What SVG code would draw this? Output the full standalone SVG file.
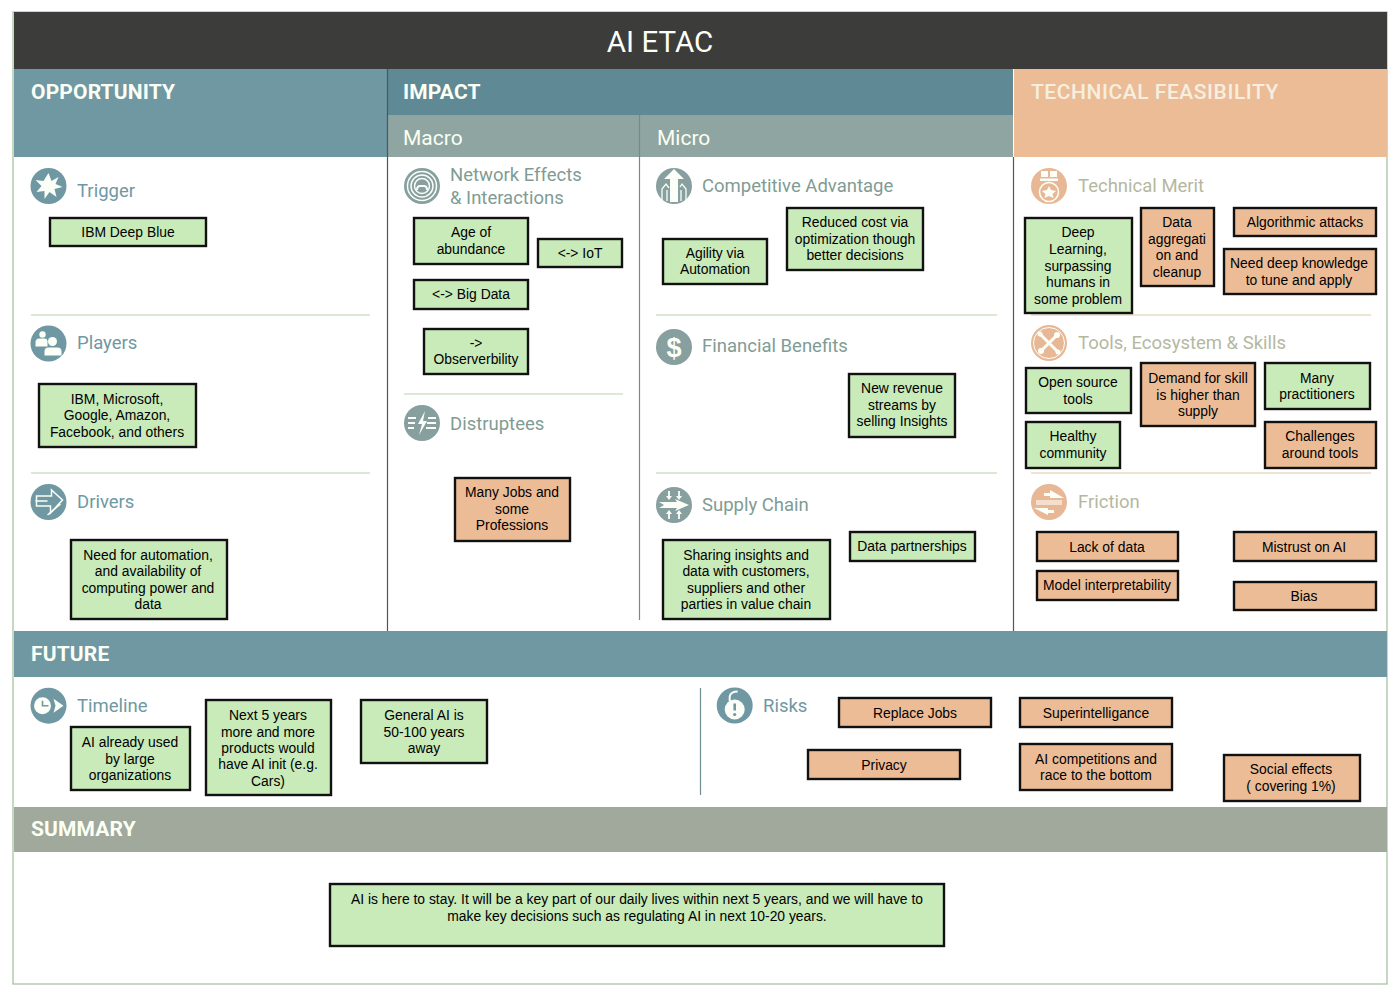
<svg xmlns="http://www.w3.org/2000/svg" width="1400" height="996" viewBox="0 0 1400 996">
<style>
text{font-family:"Liberation Sans",Arial,sans-serif}
.b rect{stroke:#111;stroke-width:2.400}
.g rect{fill:#c9eab9}
.o rect{fill:#ecbc97}
.b text{font-size:13.880px;fill:#000;text-anchor:middle}
.h{font-family:Roboto,"Liberation Sans",sans-serif;font-weight:700;font-size:21px;fill:#fbfff4;letter-spacing:.15px}
.s{font-family:Roboto,"Liberation Sans",sans-serif;font-size:21px;fill:#fbfff4}
.l{font-family:Roboto,"Liberation Sans",sans-serif;font-size:18.500px;fill:#6f98a3}
.la{fill:#7f9c94}
.lo{fill:#b5b8a0}
.ic{fill:#6f98a3}
.ig{fill:#879f9f}
.io{fill:#e8b896}
.w{fill:#fbfff8}
.wl{fill:none;stroke:#fbfff8;stroke-width:2}
.d{stroke-width:1.200;fill:none}
</style>
<rect width="1400" height="996" fill="#fff"/>
<rect x="13" y="12" width="1374" height="972" fill="#fff" stroke="#9fbf98" stroke-width="1.200"/>
<g id="bands">
<rect x="14" y="12" width="1373" height="57" fill="#3c3c3b"/>
<text x="660" y="52" font-size="29.500" fill="#fbfff8" text-anchor="middle" style="font-family:Roboto,'Liberation Sans',sans-serif">AI ETAC</text>
<rect x="14" y="69" width="374" height="88" fill="#6f98a3"/>
<text class="h" x="31" y="99">OPPORTUNITY</text>
<rect x="388" y="69" width="625" height="46" fill="#5f8994"/>
<text class="h" x="403" y="99">IMPACT</text>
<rect x="388" y="115" width="625" height="42" fill="#8fa5a1"/>
<text class="s" x="403" y="144.500">Macro</text>
<text class="s" x="657" y="144.500">Micro</text>
<rect x="1014" y="69" width="373" height="88" fill="#ecbc97"/>
<text class="h" x="1031" y="99" style="fill:#f6efe0;font-weight:500;letter-spacing:.55px">TECHNICAL FEASIBILITY</text>
<rect x="14" y="631" width="1373" height="46" fill="#6f98a3"/>
<text class="h" x="31" y="661">FUTURE</text>
<rect x="14" y="807" width="1373" height="45" fill="#a0a99c"/>
<text class="h" x="31" y="836">SUMMARY</text>
</g>
<g id="dividers">
<path class="d" stroke="#4a5a58" d="M387.500 69V631M1013.500 157V631"/>
<path class="d" stroke="#6f8d93" d="M639.500 115V620M700.500 688V795"/>
<path class="d" stroke="#b4d4a8" d="M31 315H370M31 473H370M404 394H623M656 315H997M656 473H997"/>
<path class="d" stroke="#dcc9a4" d="M1031 315H1371M1031 473H1371"/>
</g>
<g id="trigger"><circle class="ic" cx="48.500" cy="186" r="18"/><polygon class="w" transform="translate(48.500 186)" points="0,-13 3,-5 10,-9 7,-2 14,1 6,3 8,11 1,6 -4,13 -4,5 -12,6 -7,0 -13,-6 -5,-5"/><text class="l" x="77" y="197">Trigger</text></g>
<g id="players"><circle class="ic" cx="48.500" cy="343.500" r="18"/><g class="w" transform="translate(48.500 343.500)"><circle cx="-6" cy="-9" r="3.200"/><path d="M-13 3V-1Q-13-5-9-5H-4Q-1-5-1-2V3Z"/><circle cx="4" cy="-2" r="4.500"/><path d="M-4 12V8Q-4 4 0 4H9Q13 4 13 8V12Z"/></g><text class="l" x="77" y="349">Players</text></g>
<g id="drivers"><circle class="ic" cx="48.500" cy="502" r="18"/><g class="wl" transform="translate(48.500 502)" style="stroke-width:1.500"><path d="M-12-6H3V-12L14-2 2 11V4H-12Z"/><path d="M-13-1H-1M-1 13L12 2"/></g><text class="l" x="77" y="508">Drivers</text></g>
<g id="network-effects"><circle class="ig" cx="422" cy="186" r="18"/><g class="wl" transform="translate(422 186)" style="stroke-width:1.500"><circle r="14.500"/><circle r="11"/><circle r="7.500"/><path d="M-5 4Q-5 0-2 0H2Q5 0 5 4" stroke-width="2"/></g><text class="l la" x="450" y="181">Network Effects</text><text class="l la" x="450" y="204">&amp; Interactions</text></g>
<g id="distruptees"><circle class="ig" cx="422" cy="423" r="18"/><g transform="translate(422 423)"><path class="wl" d="M-14-5H-6M-14 0H-7M-14 5H-8M6-5H14M5 0H14M4 5H14"/><polygon class="w" points="3,-12 -4,1 0,1 -3,12 5,-2 1,-2"/></g><text class="l la" x="450" y="430">Distruptees</text></g>
<g id="competitive-advantage"><circle class="ig" cx="674" cy="186" r="18"/><g transform="translate(674 186)"><polygon class="w" points="0,-17 10,-7 4,-7 4,16 -4,16 -4,-7 -10,-7"/><path class="wl" d="M-12 15V3L-8-2-5 2M12 15V3L8-2 6 1M-7 15V4M7 15V4" style="stroke-width:1.300"/></g><text class="l la" x="702" y="192">Competitive Advantage</text></g>
<g id="financial-benefits"><circle class="ig" cx="674" cy="347" r="18"/><text x="674" y="357" font-size="27" font-weight="700" text-anchor="middle" class="w">$</text><text class="l la" x="702" y="352">Financial Benefits</text></g>
<g id="supply-chain"><circle class="ig" cx="674" cy="505" r="18"/><g transform="translate(674 505)"><polygon class="w" points="-15,-3 3,-3 1,-6 15,0 1,6 3,3 -15,3 -10,0"/><path class="wl" d="M-5-14V-8M5-14V-8M-5 14V8M5 14V8" style="stroke-width:1.800"/><polygon class="w" points="-8,-9 -2,-9 -5,-5"/><polygon class="w" points="2,-9 8,-9 5,-5"/><polygon class="w" points="-8,9 -2,9 -5,5"/><polygon class="w" points="2,9 8,9 5,5"/></g><text class="l la" x="702" y="511">Supply Chain</text></g>
<g id="technical-merit"><circle class="io" cx="1049" cy="186" r="18"/><g class="w" transform="translate(1049 186)"><rect x="-8" y="-15" width="7" height="6"/><rect x="1" y="-15" width="7" height="6"/><rect x="-9" y="-7.500" width="18" height="2.500"/><circle cy="6" r="9.500" fill="none" stroke="#fbfff8" stroke-width="1.500"/><polygon points="0,0 2,4 7,5 3.500,8 4.500,12 0,10 -4.500,12 -3.500,8 -7,5 -2,4"/></g><text class="l lo" x="1078" y="192">Technical Merit</text></g>
<g id="tools"><circle class="io" cx="1049" cy="343" r="18"/><g transform="translate(1049 343)"><circle class="wl" r="15.500" style="stroke-width:1"/><path class="wl" d="M-8-8L8 8M8-8L-8 8" style="stroke-width:3"/><circle class="w" cx="-8" cy="8" r="3"/><circle class="w" cx="8" cy="-8" r="3"/><circle class="w" cx="-9" cy="-9" r="2.500"/><circle class="w" cx="9" cy="9" r="2.500"/></g><text class="l lo" x="1078" y="349">Tools, Ecosystem &amp; Skills</text></g>
<g id="friction"><circle class="io" cx="1049" cy="502" r="18"/><g class="w" transform="translate(1049 502)"><polygon points="1,-12 15,-4 1,-4 1,-6 -5,-6 -5,-9 1,-9"/><polygon points="-1,13 -15,6 -1,6 -1,8 5,8 5,11 -1,11"/><path d="M-13-2H13V3H-13Z" opacity=".55"/></g><text class="l lo" x="1078" y="508">Friction</text></g>
<g id="timeline"><circle class="ic" cx="48.500" cy="705.700" r="18"/><g transform="translate(48.500 705.700)"><circle class="w" cx="-6" cy="0" r="8.500"/><path d="M-6-5V0H0" fill="none" stroke="#6f98a3" stroke-width="1.600"/><polygon class="w" points="5,-7 15,0 5,7 7,0"/></g><text class="l" x="77" y="712">Timeline</text></g>
<g id="risks"><circle class="ic" cx="734.700" cy="705.500" r="18"/><g transform="translate(734.700 705.500)"><circle class="w" cy="4" r="10"/><path class="wl" d="M-5-4V-9Q-4-14 3-14"/><rect x="-1.300" y="-2" width="2.600" height="7" fill="#6f98a3"/><circle cy="9" r="1.600" fill="#6f98a3"/></g><text class="l" x="763" y="712">Risks</text></g>

<g id="n-ibm" class="b g"><rect x="50" y="218" width="156" height="28"/><text x="128" y="237">IBM Deep Blue</text></g>
<g id="n-players" class="b g"><rect x="39" y="384" width="157" height="63"/><text x="117" y="404">IBM, Microsoft,</text><text x="117" y="420">Google, Amazon,</text><text x="117" y="437">Facebook, and others</text></g>
<g id="n-need" class="b g"><rect x="71" y="540" width="156" height="79"/><text x="148" y="560">Need for automation,</text><text x="148" y="576">and availability of</text><text x="148" y="593">computing power and</text><text x="148" y="609">data</text></g>
<g id="n-age" class="b g"><rect x="414" y="218" width="114" height="46"/><text x="471" y="237">Age of</text><text x="471" y="254">abundance</text></g>
<g id="n-iot" class="b g"><rect x="538" y="239" width="84" height="28"/><text x="580" y="258">&lt;-&gt; IoT</text></g>
<g id="n-bigdata" class="b g"><rect x="414" y="280" width="114" height="29"/><text x="471" y="299">&lt;-&gt; Big Data</text></g>
<g id="n-observ" class="b g"><rect x="424" y="329" width="104" height="45"/><text x="476" y="348">-&gt;</text><text x="476" y="364">Observerbility</text></g>
<g id="n-jobs" class="b o"><rect x="455" y="478" width="115" height="63"/><text x="512" y="497">Many Jobs and</text><text x="512" y="514">some</text><text x="512" y="530">Professions</text></g>
<g id="n-agility" class="b g"><rect x="663" y="239" width="104" height="45"/><text x="715" y="258">Agility via</text><text x="715" y="274">Automation</text></g>
<g id="n-reduced" class="b g"><rect x="787" y="208" width="136" height="62"/><text x="855" y="227">Reduced cost via</text><text x="855" y="244">optimization though</text><text x="855" y="260">better decisions</text></g>
<g id="n-revenue" class="b g"><rect x="849" y="374" width="106" height="63"/><text x="902" y="393">New revenue</text><text x="902" y="410">streams by</text><text x="902" y="426">selling Insights</text></g>
<g id="n-partner" class="b g"><rect x="850" y="532" width="125" height="29"/><text x="912" y="551">Data partnerships</text></g>
<g id="n-sharing" class="b g"><rect x="663" y="540" width="167" height="79"/><text x="746" y="560">Sharing insights and</text><text x="746" y="576">data with customers,</text><text x="746" y="593">suppliers and other</text><text x="746" y="609">parties in value chain</text></g>
<g id="n-deep" class="b g"><rect x="1025" y="218" width="107" height="95"/><text x="1078" y="237">Deep</text><text x="1078" y="254">Learning,</text><text x="1078" y="271">surpassing</text><text x="1078" y="287">humans in</text><text x="1078" y="304">some problem</text></g>
<g id="n-aggr" class="b o"><rect x="1141" y="208" width="73" height="78"/><text x="1177" y="227">Data</text><text x="1177" y="244">aggregati</text><text x="1177" y="260">on and</text><text x="1177" y="277">cleanup</text></g>
<g id="n-algo" class="b o"><rect x="1234" y="208" width="142" height="28"/><text x="1305" y="227">Algorithmic attacks</text></g>
<g id="n-knowledge" class="b o"><rect x="1224" y="249" width="152" height="45"/><text x="1299" y="268">Need deep knowledge</text><text x="1299" y="285">to tune and apply</text></g>
<g id="n-open" class="b g"><rect x="1026" y="368" width="105" height="45"/><text x="1078" y="387">Open source</text><text x="1078" y="404">tools</text></g>
<g id="n-demand" class="b o"><rect x="1141" y="363" width="114" height="63"/><text x="1198" y="383">Demand for skill</text><text x="1198" y="400">is higher than</text><text x="1198" y="416">supply</text></g>
<g id="n-many" class="b g"><rect x="1265" y="363" width="105" height="46"/><text x="1317" y="383">Many</text><text x="1317" y="399">practitioners</text></g>
<g id="n-healthy" class="b g"><rect x="1026" y="422" width="94" height="46"/><text x="1073" y="441">Healthy</text><text x="1073" y="458">community</text></g>
<g id="n-challenges" class="b o"><rect x="1265" y="422" width="111" height="46"/><text x="1320" y="441">Challenges</text><text x="1320" y="458">around tools</text></g>
<g id="n-lack" class="b o"><rect x="1037" y="532" width="141" height="29"/><text x="1107" y="551.500">Lack of data</text></g>
<g id="n-mistrust" class="b o"><rect x="1234" y="532" width="142" height="29"/><text x="1304" y="551.500">Mistrust on AI</text></g>
<g id="n-model" class="b o"><rect x="1037" y="571" width="141" height="29"/><text x="1107" y="590">Model interpretability</text></g>
<g id="n-bias" class="b o"><rect x="1234" y="582" width="142" height="28"/><text x="1304" y="600.500">Bias</text></g>
<g id="n-used" class="b g"><rect x="71" y="727" width="119" height="63"/><text x="130" y="747">AI already used</text><text x="130" y="764">by large</text><text x="130" y="780">organizations</text></g>
<g id="n-next5" class="b g"><rect x="206" y="700" width="125" height="95"/><text x="268" y="720">Next 5 years</text><text x="268" y="737">more and more</text><text x="268" y="753">products would</text><text x="268" y="769">have AI init (e.g.</text><text x="268" y="786">Cars)</text></g>
<g id="n-general" class="b g"><rect x="361" y="700" width="126" height="63"/><text x="424" y="720">General AI is</text><text x="424" y="737">50-100 years</text><text x="424" y="753">away</text></g>
<g id="n-replace" class="b o"><rect x="839" y="698" width="152" height="29"/><text x="915" y="718">Replace Jobs</text></g>
<g id="n-super" class="b o"><rect x="1020" y="698" width="152" height="29"/><text x="1096" y="718">Superintelligance</text></g>
<g id="n-privacy" class="b o"><rect x="808" y="750" width="152" height="29"/><text x="884" y="770">Privacy</text></g>
<g id="n-competitions" class="b o"><rect x="1020" y="744" width="152" height="46"/><text x="1096" y="764">AI competitions and</text><text x="1096" y="780">race to the bottom</text></g>
<g id="n-social" class="b o"><rect x="1224" y="755" width="136" height="46"/><text x="1291" y="774">Social effects</text><text x="1291" y="791">( covering 1%)</text></g>
<g id="n-summary" class="b g"><rect x="330" y="884" width="614" height="62"/><text x="637" y="904">AI is here to stay. It will be a key part of our daily lives within next 5 years, and we will have to</text><text x="637" y="921">make key decisions such as regulating AI in next 10-20 years.</text></g>
</svg>
